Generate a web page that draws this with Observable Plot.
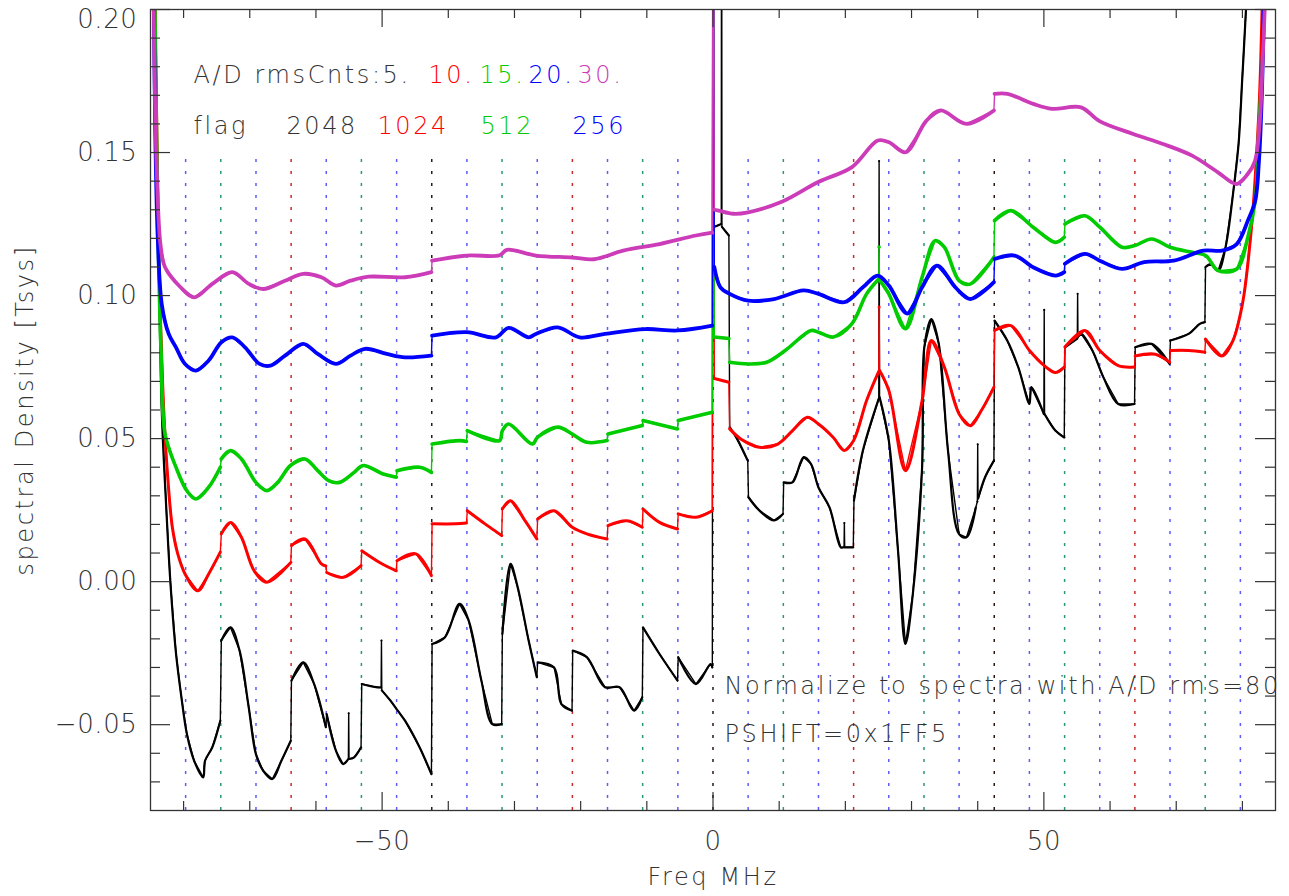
<!DOCTYPE html>
<html><head><meta charset="utf-8">
<script src="https://cdn.jsdelivr.net/npm/d3@7"></script>
<script src="https://cdn.jsdelivr.net/npm/@observablehq/plot@0.6"></script>
<style>
html,body{margin:0;padding:0;background:#fff;}
#chart{width:1289px;height:896px;overflow:hidden;}
</style></head><body><div id="chart"></div>
<script>
// ---------- axes / ticks ----------
const xDomain = [-85, 85];
const yDomain = [-0.08, 0.2];
const xMajorTicks = [-50, 0, 50];
const xMinorTicks = [-80, -70, -60, -40, -30, -20, -10, 10, 20, 30, 40, 60, 70, 80];
const yMajorTicks = [-0.05, 0, 0.05, 0.10, 0.15, 0.20];
const yMinorTicks = [-0.07, -0.06, -0.04, -0.03, -0.02, -0.01, 0.01, 0.02, 0.03, 0.04, 0.06, 0.07, 0.08, 0.09, 0.11, 0.12, 0.13, 0.14, 0.16, 0.17, 0.18, 0.19];

// ---------- flag channel boundaries (MHz) ----------
const flagTop = 0.15;
const flag256 = [-79.69, -69.06, -58.44, -47.81, -37.19, -26.56, -15.94, -5.31, 5.31, 15.94, 26.56, 37.19, 47.81, 58.44, 69.06, 79.69];
const flag512 = [-74.38, -53.13, -31.88, -10.63, 10.63, 31.88, 53.13, 74.38];
const flag1024 = [-63.75, -21.25, 21.25, 63.75];
const flag2048 = [-42.5, 0, 42.5];

// ---------- labels ----------
const legendHeader = "A/D rmsCnts:5.";
const rmsCounts = ["10.", "15.", "20.", "30."];
const flagWord = "flag";
const flagNames = ["2048", "1024", "512", "256"];
const note1 = "Normalize to spectra with A/D rms=80";
const note2 = "PSHIFT=0x1FF5";
const xTitle = "Freq MHz";
const yTitle = "spectral Density [Tsys]";

// ---------- spectra [freq MHz, density Tsys] ----------
const series5 = [
 [-84.9,0.3],[-84.0,0.15],[-83.3,0.06],[-82.6,0.025],[-82.0,0.0],[-81.15,-0.025],[-80.33,-0.0404],[-79.51,-0.0532],
 [-78.41,-0.0626],[-77.03,-0.0684],[-76.76,-0.0626],[-75.66,-0.0579],[-74.45,-0.0486],[-74.3,-0.0206],[-72.91,-0.016],
 [-71.54,-0.0241],[-70.16,-0.0439],[-69.07,-0.0603],[-67.97,-0.0661],[-66.59,-0.069],[-65.22,-0.0626],[-63.8,-0.0556],
 [-63.7,-0.0346],[-61.92,-0.0282],[-60.27,-0.0358],[-58.5,-0.0509],[-58.38,-0.0463],[-56.98,-0.0591],[-55.88,-0.0638],
 [-55.1,-0.062],[-55.05,-0.046],[-55.0,-0.062],[-54.23,-0.0614],[-53.18,-0.0579],[-53.08,-0.0358],[-50.93,-0.0369],
 [-50.15,-0.037],[-50.1,-0.0206],[-50.05,-0.038],[-48.74,-0.0416],[-47.64,-0.0451],[-46.54,-0.0486],[-44.34,-0.0579],
 [-42.55,-0.0673],[-42.45,-0.0218],[-40.49,-0.0194],[-38.3,-0.0078],[-36.92,-0.0136],[-35.0,-0.0346],[-33.35,-0.0498],
 [-31.93,-0.0498],[-31.83,-0.0183],[-30.6,0.0062],[-29.51,-0.002],[-27.86,-0.0206],[-26.62,-0.0334],[-26.5,-0.0282],
 [-24.01,-0.03],[-22.91,-0.0428],[-21.3,-0.0451],[-21.2,-0.0241],[-19.07,-0.0264],[-16.32,-0.0369],[-14.12,-0.0369],
 [-11.92,-0.0451],[-10.68,-0.0404],[-10.58,-0.016],[-8.08,-0.0253],[-5.36,-0.0346],[-5.26,-0.0264],[-2.58,-0.0358],
 [-0.38,-0.0288],[-0.1,-0.03],[0,0.3],[0.15,0.124],[1.25,0.125],[1.3,0.3],[1.35,0.124],[2.4,0.121],[2.52,0.054],
 [3.64,0.0499],[5.25,0.0423],[5.36,0.0295],[6.99,0.0249],[9.23,0.0214],[10.58,0.0237],[10.68,0.0347],[12.02,0.0347],
 [13.7,0.0435],[14.82,0.0411],[15.94,0.0329],[17.62,0.0259],[19.3,0.012],[19.8,0.012],[19.85,0.0205],[19.9,0.012],
 [21.2,0.012],[21.3,0.0283],[22.65,0.0458],[25.05,0.064],[25.1,0.147],[25.17,0.0645],[26.57,0.0493],[27.96,0.0108],
 [29.08,-0.0218],[30.2,-0.0043],[31.6,0.04],[31.93,0.0819],[33.0,0.0918],[34.12,0.0831],[35.51,0.0458],[37.19,0.0166],
 [38.31,0.0155],[39.71,0.0259],[39.95,0.028],[40.0,0.048],[40.05,0.029],[41.11,0.0365],[42.45,0.0423],[42.55,0.0912],
 [44.46,0.0843],[46.14,0.0749],[47.82,0.0621],[48.1,0.068],[50.0,0.0586],[50.05,0.095],[50.1,0.0586],[51.73,0.0528],
 [53.08,0.0504],[53.18,0.0819],[55.05,0.085],[55.1,0.1006],[55.15,0.0855],[55.65,0.0866],[57.33,0.0808],[59.0,0.0714],
 [61.24,0.0621],[63.7,0.0621],[63.8,0.0819],[66.28,0.0831],[69.0,0.0761],[69.12,0.0843],[71.87,0.0866],[73.55,0.0901],
 [74.33,0.0907],[74.43,0.11],[75.22,0.111],[76.34,0.1087],[77.46,0.117],[78.58,0.1355],[79.42,0.153],[79.98,0.176],
 [80.54,0.2],[81.2,0.24],[82,0.3]
];
const series10 = [
 [-84.8,0.3],[-83.8,0.12],[-83.0,0.06],[-82.36,0.0353],[-81.7,0.019],[-80.88,0.0097],[-79.78,0.0027],[-77.86,-0.0032],
 [-76.21,0.0027],[-74.45,0.0103],[-74.3,0.0167],[-72.91,0.0207],[-71.26,0.0155],[-69.34,0.0038],[-67.42,-0.0002],
 [-63.8,0.0067],[-63.7,0.0126],[-61.65,0.0149],[-59.18,0.0062],[-58.5,0.0055],[-58.38,0.0032],[-55.88,0.0015],
 [-53.18,0.0056],[-53.08,0.0108],[-50.38,0.0067],[-47.86,0.0038],[-47.76,0.0073],[-44.89,0.0097],[-42.55,0.0021],
 [-42.45,0.0202],[-38.85,0.0202],[-37.25,0.0205],[-37.13,0.0248],[-34.45,0.0202],[-31.93,0.0161],[-31.83,0.0254],
 [-30.6,0.0283],[-28.41,0.0213],[-26.62,0.0149],[-26.5,0.0219],[-24.01,0.0248],[-21.26,0.019],[-19.07,0.0167],
 [-16.0,0.0149],[-15.88,0.0196],[-13.02,0.0213],[-10.68,0.019],[-10.58,0.0254],[-8.08,0.0207],[-5.36,0.0184],
 [-5.26,0.0237],[-2.58,0.0225],[-0.1,0.0248],[0,0.3],[0.2,0.071],[2.4,0.0697],[2.52,0.0534],[4.19,0.0499],[6.99,0.047],
 [9.79,0.0481],[12.02,0.0528],[14.26,0.0575],[15.94,0.0551],[18.18,0.0504],[19.85,0.0458],[21.25,0.0493],[23.21,0.0633],
 [25.05,0.0735],[25.1,0.096],[25.17,0.0738],[26.57,0.0668],[29.08,0.0388],[31.6,0.0633],[33.0,0.0843],[34.96,0.075],
 [37.19,0.0586],[38.87,0.0545],[40.55,0.0598],[42.45,0.068],[42.55,0.0878],[45.02,0.0895],[47.82,0.0808],[50.06,0.0755],
 [51.73,0.0731],[53.08,0.075],[53.18,0.082],[56.21,0.0878],[58.45,0.0808],[61.24,0.0755],[63.7,0.075],[63.8,0.0789],
 [66.83,0.0795],[69.0,0.0767],[69.12,0.0808],[71.87,0.0808],[74.33,0.0802],[74.43,0.0848],[76.9,0.0789],[78.58,0.0843],
 [79.7,0.0936],[80.26,0.1006],[81.38,0.124],[81.94,0.1414],[82.5,0.1647],[82.77,0.182],[83.2,0.22],[84,0.3]
];
const series15 = [
 [-84.8,0.3],[-84.0,0.14],[-83.4,0.08],[-82.8,0.0516],[-81.15,0.04],[-79.51,0.0318],[-78.13,0.0289],[-76.21,0.033],
 [-74.45,0.04],[-74.3,0.0429],[-72.91,0.0458],[-71.26,0.0429],[-69.07,0.0347],[-67.42,0.0318],[-65.77,0.0347],
 [-63.85,0.0406],[-61.65,0.0429],[-59.73,0.0388],[-58.08,0.0353],[-56.43,0.0347],[-54.23,0.0382],[-52.86,0.0406],
 [-49.84,0.0376],[-47.86,0.0365],[-47.76,0.0388],[-44.34,0.04],[-42.55,0.0382],[-42.45,0.0481],[-38.3,0.0493],
 [-37.25,0.049],[-37.13,0.0528],[-32.25,0.0493],[-31.83,0.0528],[-30.88,0.0551],[-27.31,0.0481],[-26.5,0.0505],
 [-23.46,0.054],[-21.26,0.0516],[-19.07,0.0487],[-16.0,0.0493],[-15.88,0.0516],[-10.68,0.0546],[-10.58,0.0563],
 [-5.36,0.0534],[-5.26,0.0563],[-0.1,0.0592],[0,0.3],[0.2,0.0855],[2.4,0.085],[2.52,0.0767],[5.31,0.0761],[8.11,0.0767],
 [10.9,0.0808],[14.82,0.0878],[15.94,0.0872],[18.18,0.0855],[20.97,0.0901],[23.21,0.1006],[25.05,0.1058],[25.1,0.117],
 [25.15,0.1055],[26.57,0.1006],[29.08,0.0884],[31.6,0.1064],[33.56,0.1192],[34.96,0.1169],[37.19,0.1052],[38.87,0.104],
 [42.45,0.1134],[42.55,0.1262],[45.02,0.1297],[48.38,0.1239],[51.73,0.1186],[53.08,0.1204],[53.18,0.125],[56.21,0.1279],
 [58.45,0.1239],[61.8,0.1169],[63.76,0.1175],[66.28,0.1198],[69.07,0.1169],[72.43,0.1151],[74.44,0.114],[76.34,0.1087],
 [79.14,0.1093],[80.82,0.1204],[81.94,0.1332],[82.5,0.159],[83.05,0.182],[83.5,0.22],[84,0.3]
];
const series20 = [
 [-84.9,0.3],[-84.3,0.16],[-83.9,0.12],[-83.3,0.097],[-82.25,0.0866],[-81.15,0.0819],[-79.78,0.0761],[-78.13,0.0738],
 [-76.21,0.0773],[-74.29,0.0837],[-72.64,0.0854],[-70.71,0.0819],[-68.52,0.0761],[-66.87,0.0755],[-64.67,0.079],
 [-61.92,0.0831],[-59.73,0.0796],[-56.98,0.0761],[-54.78,0.079],[-52.58,0.0814],[-49.29,0.0796],[-46.54,0.0784],
 [-42.55,0.079],[-42.45,0.086],[-37.2,0.0872],[-32.8,0.0854],[-30.88,0.0887],[-27.86,0.0854],[-26.76,0.0866],
 [-23.46,0.0889],[-20.16,0.0854],[-16.32,0.0866],[-10.27,0.0883],[-5.33,0.0878],[-0.1,0.0895],[0,0.3],[0.2,0.11],
 [1.12,0.1029],[2.52,0.1006],[5.31,0.0982],[9.23,0.0988],[13.7,0.1018],[15.94,0.1006],[19.85,0.0977],[22.65,0.1029],
 [24.89,0.107],[26.57,0.1035],[29.36,0.0937],[31.6,0.1029],[33.84,0.1105],[36.63,0.1029],[38.87,0.0988],[42.45,0.1047],
 [42.55,0.1128],[45.58,0.114],[48.38,0.1099],[51.73,0.107],[53.08,0.1082],[53.18,0.1111],[56.21,0.1146],[58.45,0.1122],
 [61.8,0.1093],[65.16,0.1117],[69.63,0.1122],[74.1,0.1157],[76.9,0.1157],[79.14,0.118],[80.82,0.1262],[81.94,0.1332],
 [82.5,0.1472],[82.94,0.1705],[83.3,0.21],[84,0.3]
];
const series30 = [
 [-84.9,0.3],[-84.4,0.18],[-84.0,0.14],[-83.5,0.118],[-82.8,0.1099],[-80.5,0.103],[-78.41,0.0994],[-75.66,0.1041],
 [-72.64,0.1082],[-70.16,0.1041],[-67.97,0.1023],[-64.67,0.1052],[-61.92,0.1076],[-59.18,0.1064],[-56.98,0.1035],
 [-54.78,0.1052],[-52.03,0.1066],[-46.54,0.1064],[-42.55,0.1082],[-42.45,0.1122],[-37.2,0.114],[-32.25,0.1141],
 [-31.15,0.116],[-26.76,0.114],[-21.26,0.1133],[-17.97,0.1127],[-13.57,0.1157],[-8.08,0.118],[-2.58,0.121],[-0.1,0.122],
 [0,0.3],[0.2,0.13],[0.84,0.1297],[3.1,0.1286],[5.3,0.1291],[10.3,0.1327],[15.9,0.1397],[21.0,0.1449],[24.9,0.1542],
 [26.6,0.1536],[29.1,0.1501],[32.2,0.161],[34.4,0.1647],[38.3,0.16],[42.45,0.1647],[42.55,0.1705],[44.5,0.1705],
 [48.4,0.167],[51.2,0.1653],[55.6,0.1658],[58.4,0.161],[63.5,0.1565],[68.0,0.153],[72.4,0.1489],[76.3,0.1431],
 [79.1,0.139],[80.8,0.1425],[81.9,0.147],[82.6,0.16],[83.1,0.185],[83.5,0.21],[84,0.3]
];

// ---------- styling ----------
const seriesStyle = [
  {data: series5,  color: "#000000", w: 2.2},
  {data: series10, color: "#ff0000", w: 3.0},
  {data: series15, color: "#00cc00", w: 3.6},
  {data: series20, color: "#0000ff", w: 3.8},
  {data: series30, color: "#cc3cb8", w: 3.8}
];
const flagStyle = [
  {data: flag256, color: "#5b5bff"},
  {data: flag512, color: "#2a9a6a"},
  {data: flag1024, color: "#d02828"},
  {data: flag2048, color: "#2a1a10"}
];
const countColors = ["#ff0000", "#00cc00", "#0000ff", "#cc3cb8"];
const flagColors = ["#333333", "#ff0000", "#00cc00", "#0000ff"];

// split a spectrum into smooth pieces at its abrupt steps/spikes
function pieces(data) {
  const out = [];
  let seg = 0;
  data.forEach((d, i) => {
    if (i > 0 && d[0] - data[i - 1][0] < 0.25) seg++;
    out.push({x: d[0], y: d[1], seg});
  });
  return out;
}

const W = 1289, H = 896, mL = 150, mR = 14, mT = 9, mB = 86;
const pw = W - mL - mR, ph = H - mT - mB;
const px2x = p => xDomain[0] + (p - mL) / pw * (xDomain[1] - xDomain[0]);
const py2y = p => yDomain[1] - (p - mT) / ph * (yDomain[1] - yDomain[0]);

const texts = [
  {t: legendHeader, x: px2x(193), y: py2y(75), c: "#333333"},
  ...rmsCounts.map((t, i) => ({t, x: px2x([428, 479, 528, 577][i]), y: py2y(75), c: countColors[i]})),
  {t: flagWord, x: px2x(193), y: py2y(126), c: "#333333"},
  ...flagNames.map((t, i) => ({t, x: px2x([286, 377, 480, 572][i]), y: py2y(126), c: flagColors[i]})),
  {t: note1, x: px2x(724), y: py2y(686), c: "#333333"},
  {t: note2, x: px2x(724), y: py2y(734), c: "#333333"}
];

const tickColor = "#333";
const yLabelFmt = d3.format(".2f");
const lineMarks = [];
seriesStyle.forEach(s => {
  lineMarks.push(Plot.line(s.data, {x: d => d[0], y: d => d[1], stroke: s.color, strokeWidth: 1.4, curve: "linear", clip: true}));
  lineMarks.push(Plot.line(pieces(s.data), {x: "x", y: "y", z: "seg", stroke: s.color, strokeWidth: s.w, curve: "catmull-rom", strokeLinejoin: "round", clip: true}));
});

const plot = Plot.plot({
  width: W, height: H,
  marginLeft: mL, marginRight: mR, marginTop: mT, marginBottom: mB,
  x: {domain: xDomain},
  y: {domain: yDomain},
  style: {fontFamily: "'DejaVu Sans', sans-serif", fontSize: "24px", fontWeight: 200, color: "#333", background: "#fff", letterSpacing: "2.6px", overflow: "visible"},
  marks: [
    ...flagStyle.map(f => Plot.ruleX(f.data, {x: d => d, y1: yDomain[0], y2: flagTop, stroke: f.color, strokeWidth: 1.5, strokeDasharray: "3,9"})),
    ...lineMarks,
    Plot.frame({stroke: tickColor, strokeWidth: 1.3}),
    Plot.ruleX(xMinorTicks, {x: d => d, insetTop: ph - 9, stroke: tickColor, strokeWidth: 1.2}),
    Plot.ruleX(xMinorTicks, {x: d => d, insetBottom: ph - 9, stroke: tickColor, strokeWidth: 1.2}),
    Plot.ruleX(xMajorTicks, {x: d => d, insetTop: ph - 18, stroke: tickColor, strokeWidth: 1.2}),
    Plot.ruleX(xMajorTicks, {x: d => d, insetBottom: ph - 18, stroke: tickColor, strokeWidth: 1.2}),
    Plot.ruleY(yMinorTicks, {y: d => d, insetRight: pw - 10, stroke: tickColor, strokeWidth: 1.2}),
    Plot.ruleY(yMinorTicks, {y: d => d, insetLeft: pw - 10, stroke: tickColor, strokeWidth: 1.2}),
    Plot.ruleY(yMajorTicks, {y: d => d, insetRight: pw - 20, stroke: tickColor, strokeWidth: 1.2}),
    Plot.ruleY(yMajorTicks, {y: d => d, insetLeft: pw - 20, stroke: tickColor, strokeWidth: 1.2}),
    Plot.axisX(xMajorTicks, {tickSize: 0, tickPadding: 21, fontSize: 26, label: null}),
    Plot.axisY(yMajorTicks.slice(0, -1), {tickSize: 0, tickPadding: 13, fontSize: 26, tickFormat: yLabelFmt, label: null}),
    Plot.axisY(yMajorTicks.slice(-1), {tickSize: 0, tickPadding: 13, fontSize: 26, tickFormat: yLabelFmt, label: null, dy: 10}),
    Plot.text([xTitle], {frameAnchor: "bottom", dy: 74, text: d => d, fill: "#333"}),
    Plot.text([yTitle], {frameAnchor: "left", rotate: -90, textAnchor: "middle", dx: -125, text: d => d, fill: "#333"}),
    Plot.text(texts, {x: "x", y: "y", text: "t", fill: "c", textAnchor: "start"})
  ]
});
document.getElementById("chart").appendChild(plot);
d3.select(plot).selectAll('g[aria-label="x-axis tick label"] text, g[aria-label="y-axis tick label"] text').style("letter-spacing", "0.6px");
</script></body></html>
